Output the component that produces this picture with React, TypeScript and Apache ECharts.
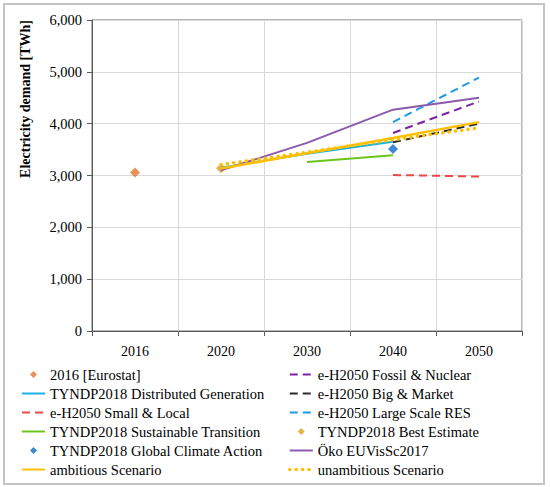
import React, { useEffect, useRef } from "react";
import * as echarts from "echarts";

const categories = ["2016", "2020", "2030", "2040", "2050"];
const yTicks = [0, 1000, 2000, 3000, 4000, 5000, 6000];

const eurostat = [3060, null, null, null, null];
const fossilNuclear = [null, null, null, 3820, 4430];
const distributedGen = [null, 3150, 3420, 3650, null];
const bigMarket = [null, null, null, 3640, 4000];
const smallLocal = [null, null, null, 3010, 2980];
const largeRES = [null, null, null, 4030, 4890];
const sustainable = [null, null, 3260, 3390, null];
const bestEstimate = [null, 3140, null, null, null];
const globalClimate = [null, null, null, 3510, null];
const oko = [null, 3100, 3630, 4270, 4500];
const ambitious = [null, 3135, 3430, 3725, 4030];
const unambitious = [null, 3210, 3450, 3690, 3920];

const leftLegend = [
  "2016 [Eurostat]",
  "TYNDP2018 Distributed Generation",
  "e-H2050 Small & Local",
  "TYNDP2018 Sustainable Transition",
  "TYNDP2018 Global Climate Action",
  "ambitious Scenario",
];
const rightLegend = [
  "e-H2050 Fossil & Nuclear",
  "e-H2050 Big & Market",
  "e-H2050 Large Scale RES",
  "TYNDP2018 Best Estimate",
  "Öko EUVisSc2017",
  "unambitious Scenario",
];
const scatterNames = ["2016 [Eurostat]", "TYNDP2018 Best Estimate", "TYNDP2018 Global Climate Action"];
const dottedNames = ["unambitious Scenario"];

const FONT = "'Liberation Serif', 'Times New Roman', serif";
const DASH = [8, 5];
const DOT = [0.1, 6.3];

function lineSeries(name: string, data: (number | null)[], color: string, width: number, type: any, cap?: string) {
  return {
    name,
    type: "line",
    data,
    symbol: "none",
    showSymbol: false,
    connectNulls: false,
    lineStyle: { color, width, type, cap: cap || "butt" },
    itemStyle: { color },
  };
}

function scatterSeries(name: string, data: (number | null)[], color: string) {
  return {
    name,
    type: "scatter",
    data,
    symbol: "diamond",
    symbolSize: 10,
    itemStyle: { color },
  };
}

function legendItems(names: string[]) {
  return names.map((n) => {
    if (scatterNames.includes(n)) {
      return { name: n, icon: "path://M23,0 M11.5,0 L15,3.5 L11.5,7 L8,3.5 Z M0,7" };
    }
    if (dottedNames.includes(n)) {
      return {
        name: n,
        itemStyle: { opacity: 0 },
        lineStyle: { width: 3.5, type: DOT, cap: "round", color: "#FFBF00" },
      };
    }
    return { name: n, itemStyle: { opacity: 0 } };
  });
}

export default function App() {
  const ref = useRef<HTMLDivElement>(null);
  useEffect(() => {
    if (!ref.current) return;
    const chart = echarts.init(ref.current, null, { renderer: "svg" });
    const legendCommon = {
      orient: "vertical",
      top: 365,
      padding: 0,
      itemGap: 0,
      itemWidth: 23,
      itemHeight: 7,
      selectedMode: false,
      textStyle: { fontFamily: FONT, fontSize: 14.5, color: "#000", lineHeight: 19 },
    };
    chart.setOption({
      animation: false,
      textStyle: { fontFamily: FONT },
      grid: {
        left: 92,
        right: 28,
        top: 20,
        bottom: 156,
        show: true,
        borderColor: "#6f6f6f",
        borderWidth: 1,
      },
      graphic: [
        {
          type: "rect",
          shape: { x: 4, y: 4, width: 540, height: 480 },
          style: { fill: "none", stroke: "#c4c4c4", lineWidth: 2 },
          silent: true,
        },
        {
          type: "text",
          x: 25,
          y: 99,
          rotation: Math.PI / 2,
          style: {
            text: "Electricity demand [TWh]",
            font: `bold 14px ${FONT}`,
            fill: "#000",
            align: "center",
            verticalAlign: "middle",
          },
        },
      ],
      legend: [
        { ...legendCommon, left: 21, data: legendItems(leftLegend) },
        { ...legendCommon, left: 288, data: legendItems(rightLegend) },
      ],
      xAxis: {
        type: "category",
        data: categories,
        boundaryGap: true,
        axisLine: { lineStyle: { color: "#595959", width: 1 } },
        axisTick: { show: true, length: 5, lineStyle: { color: "#595959" } },
        axisLabel: { color: "#000", fontSize: 14, fontFamily: FONT, margin: 13 },
        splitLine: { show: true, lineStyle: { color: "#d9d9d9", width: 1 } },
      },
      yAxis: {
        type: "value",
        min: yTicks[0],
        max: yTicks[yTicks.length - 1],
        interval: 1000,
        axisLine: { show: true, lineStyle: { color: "#595959", width: 1 } },
        axisTick: { show: true, length: 5, lineStyle: { color: "#595959" } },
        axisLabel: {
          color: "#000",
          fontSize: 14.5,
          fontFamily: FONT,
          margin: 10,
          formatter: (v: number) => v.toLocaleString("en-US"),
        },
        splitLine: { show: true, lineStyle: { color: "#d9d9d9", width: 1 } },
      },
      series: [
        scatterSeries("2016 [Eurostat]", eurostat, "#E0782F"),
        lineSeries("e-H2050 Fossil & Nuclear", fossilNuclear, "#7B22A8", 2, DASH),
        lineSeries("TYNDP2018 Distributed Generation", distributedGen, "#1AB2E0", 2, "solid"),
        lineSeries("e-H2050 Big & Market", bigMarket, "#2a2a2a", 2, DASH),
        lineSeries("e-H2050 Small & Local", smallLocal, "#E84A4A", 2, DASH),
        lineSeries("e-H2050 Large Scale RES", largeRES, "#1E98E8", 2, DASH),
        lineSeries("TYNDP2018 Sustainable Transition", sustainable, "#6CC51A", 2, "solid"),
        scatterSeries("TYNDP2018 Best Estimate", bestEstimate, "#DCA21C"),
        scatterSeries("TYNDP2018 Global Climate Action", globalClimate, "#0A6CC4"),
        lineSeries("Öko EUVisSc2017", oko, "#8A5AAE", 2, "solid"),
        lineSeries("ambitious Scenario", ambitious, "#FFBF00", 2.5, "solid"),
        lineSeries("unambitious Scenario", unambitious, "#FFBF00", 3.5, DOT, "round"),
      ],
    });
    return () => chart.dispose();
  }, []);
  return (
    <div
      ref={ref}
      style={{ position: "fixed", left: 0, top: 0, width: 550, height: 487, background: "#fff" }}
    />
  );
}
